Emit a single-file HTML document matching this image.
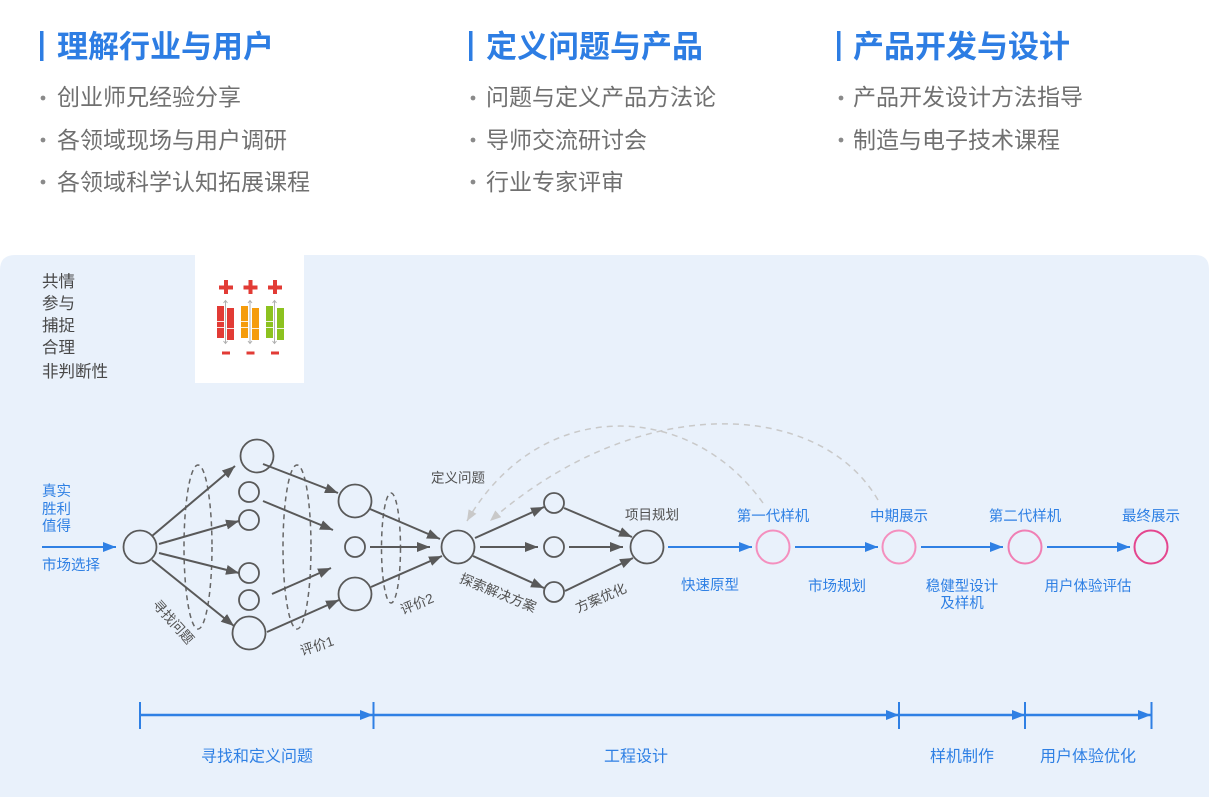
<!DOCTYPE html>
<html><head><meta charset="utf-8"><style>
html,body{margin:0;padding:0;background:#fff;}
svg{display:block;}
text{font-family:"Liberation Sans","Noto Sans CJK SC",sans-serif;}
</style></head><body>
<svg width="1209" height="797" viewBox="0 0 1209 797" xmlns="http://www.w3.org/2000/svg">
<defs>
<marker id="ga" markerUnits="userSpaceOnUse" markerWidth="14" markerHeight="11" refX="13" refY="5" orient="auto"><path d="M0,0 L13,5 L0,10 z" fill="#595959"/></marker>
<marker id="ba" markerUnits="userSpaceOnUse" markerWidth="14" markerHeight="11" refX="13" refY="5" orient="auto"><path d="M0,0 L13,5 L0,10 z" fill="#2f80e4"/></marker>
<marker id="la" markerUnits="userSpaceOnUse" markerWidth="12" markerHeight="10" refX="11" refY="4.5" orient="auto"><path d="M0,0 L11,4.5 L0,9 z" fill="#c9c9c9"/></marker>
</defs>
<rect width="1209" height="797" fill="#fff"/>

<!-- header -->
<g>
<rect x="40" y="31" width="3.5" height="30" fill="#2d7de3"/>
<text x="57" y="47" font-size="31" font-weight="bold" fill="#2d7de3" dominant-baseline="central">理解行业与用户</text>
<rect x="469" y="31" width="3.5" height="30" fill="#2d7de3"/>
<text x="486" y="47" font-size="31" font-weight="bold" fill="#2d7de3" dominant-baseline="central">定义问题与产品</text>
<rect x="837" y="31" width="3.5" height="30" fill="#2d7de3"/>
<text x="853" y="47" font-size="31" font-weight="bold" fill="#2d7de3" dominant-baseline="central">产品开发与设计</text>

<g fill="#8a8a8a">
<circle cx="43" cy="98" r="2.4"/><circle cx="43" cy="140" r="2.4"/><circle cx="43" cy="182" r="2.4"/>
<circle cx="473" cy="98" r="2.4"/><circle cx="473" cy="140" r="2.4"/><circle cx="473" cy="182" r="2.4"/>
<circle cx="841" cy="98" r="2.4"/><circle cx="841" cy="140" r="2.4"/>
</g>
<g font-size="23" fill="#707070" dominant-baseline="central">
<text x="57" y="97">创业师兄经验分享</text>
<text x="57" y="140">各领域现场与用户调研</text>
<text x="57" y="182">各领域科学认知拓展课程</text>
<text x="486" y="97">问题与定义产品方法论</text>
<text x="486" y="140">导师交流研讨会</text>
<text x="486" y="182">行业专家评审</text>
<text x="853" y="97">产品开发设计方法指导</text>
<text x="853" y="140">制造与电子技术课程</text>
</g>
</g>

<!-- panel -->
<path d="M0,270 Q0,255 15,255 H1195 Q1209,255 1209,269 V797 H0 Z" fill="#e9f1fb"/>
<rect x="195" y="255" width="109" height="128" fill="#fff"/>

<g font-size="16.5" fill="#484848" dominant-baseline="central">
<text x="42" y="282">共情</text>
<text x="42" y="304">参与</text>
<text x="42" y="326">捕捉</text>
<text x="42" y="348">合理</text>
<text x="42" y="372">非判断性</text>
</g>

<!-- icon -->
<g>
<g id="grp">
<rect x="219" y="285.5" width="14" height="4" fill="#e23b35"/>
<rect x="224" y="280" width="4" height="14" fill="#e23b35"/>
<rect x="222" y="351.5" width="8" height="3" fill="#e23b35"/>
</g>
<use href="#grp" x="24.5"/>
<use href="#grp" x="49"/>
<rect x="217" y="306" width="7" height="32" fill="#e23b35"/>
<rect x="227" y="308" width="7" height="32" fill="#e23b35"/>
<rect x="241" y="306" width="7" height="32" fill="#f59c0c"/>
<rect x="252" y="308" width="7" height="32" fill="#f59c0c"/>
<rect x="266" y="306" width="7" height="32" fill="#8cc21f"/>
<rect x="277" y="308" width="7" height="32" fill="#8cc21f"/>
<g fill="#fff" opacity="0.85">
<rect x="217" y="321" width="7" height="1"/><rect x="217" y="327" width="7" height="1"/><rect x="227" y="328" width="7" height="1"/>
<rect x="241" y="321" width="7" height="1"/><rect x="241" y="327" width="7" height="1"/><rect x="252" y="328" width="7" height="1"/>
<rect x="266" y="321" width="7" height="1"/><rect x="266" y="327" width="7" height="1"/><rect x="277" y="328" width="7" height="1"/>
</g>
<g stroke="#b0b0b0" stroke-width="1" fill="none">
<line x1="225.5" y1="301" x2="225.5" y2="343"/><line x1="250" y1="301" x2="250" y2="343"/><line x1="274.5" y1="301" x2="274.5" y2="343"/>
<path d="M223.5,303 L225.5,300.5 L227.5,303 M223.5,341 L225.5,343.5 L227.5,341"/>
<path d="M248,303 L250,300.5 L252,303 M248,341 L250,343.5 L252,341"/>
<path d="M272.5,303 L274.5,300.5 L276.5,303 M272.5,341 L274.5,343.5 L276.5,341"/>
</g>
</g>

<!-- dashed ellipses -->
<g fill="none" stroke="#666" stroke-width="1.5" stroke-dasharray="5,4">
<ellipse cx="198" cy="547" rx="14" ry="82"/>
<ellipse cx="297" cy="547" rx="14" ry="82"/>
<ellipse cx="391" cy="548" rx="9.5" ry="55"/>
</g>

<!-- gray arrows -->
<g stroke="#595959" stroke-width="2" fill="none" marker-end="url(#ga)">
<line x1="152" y1="536" x2="235" y2="466"/>
<line x1="159" y1="544" x2="239" y2="521"/>
<line x1="159" y1="553" x2="239" y2="573"/>
<line x1="152" y1="560" x2="234" y2="626"/>
<line x1="263" y1="464" x2="338" y2="493"/>
<line x1="263" y1="501" x2="333" y2="530"/>
<line x1="272" y1="594" x2="331" y2="568"/>
<line x1="267" y1="632" x2="339" y2="600"/>
<line x1="370" y1="509" x2="440" y2="539"/>
<line x1="370" y1="547" x2="430" y2="547"/>
<line x1="371" y1="587" x2="442" y2="556"/>
<line x1="475" y1="538" x2="544" y2="507"/>
<line x1="480" y1="547" x2="538" y2="547"/>
<line x1="473" y1="556" x2="544" y2="588"/>
<line x1="564" y1="508" x2="632" y2="537"/>
<line x1="569" y1="547" x2="623" y2="547"/>
<line x1="565" y1="591" x2="633" y2="558"/>
</g>

<!-- gray circles -->
<g fill="none" stroke="#595959" stroke-width="1.8">
<circle cx="140" cy="547" r="16.5"/>
<circle cx="257" cy="456" r="16.5"/>
<circle cx="249" cy="492" r="10"/>
<circle cx="249" cy="520" r="10"/>
<circle cx="249" cy="573" r="10"/>
<circle cx="249" cy="600" r="10"/>
<circle cx="249" cy="633" r="16.5"/>
<circle cx="355" cy="501" r="16.5"/>
<circle cx="355" cy="547" r="10"/>
<circle cx="355" cy="594" r="16.5"/>
<circle cx="458" cy="547" r="16.5"/>
<circle cx="554" cy="503" r="10"/>
<circle cx="554" cy="547" r="10"/>
<circle cx="554" cy="592" r="10"/>
<circle cx="647" cy="547" r="16.5"/>
</g>

<!-- dashed feedback curves -->
<g fill="none" stroke="#c9c9c9" stroke-width="1.5" stroke-dasharray="6,5" marker-end="url(#la)">
<path d="M763,503 C690,400 540,395 467,521"/>
<path d="M878,500 C820,400 640,390 490,521"/>
</g>

<!-- blue arrows -->
<g stroke="#2f80e4" stroke-width="2" fill="none" marker-end="url(#ba)">
<line x1="42" y1="547" x2="116" y2="547"/>
<line x1="668" y1="547" x2="752" y2="547"/>
<line x1="795" y1="547" x2="878" y2="547"/>
<line x1="921" y1="547" x2="1003" y2="547"/>
<line x1="1047" y1="547" x2="1130" y2="547"/>
</g>

<!-- pink circles -->
<g fill="none" stroke-width="2">
<circle cx="773" cy="547" r="16.5" stroke="#f48fbe"/>
<circle cx="899" cy="547" r="16.5" stroke="#f48fbe"/>
<circle cx="1025" cy="547" r="16.5" stroke="#f07fb4"/>
<circle cx="1151" cy="547" r="16.5" stroke="#e4468e"/>
</g>

<!-- labels -->
<g font-size="14.5" fill="#2f80e4" dominant-baseline="central">
<text x="42" y="492">真实</text>
<text x="42" y="510">胜利</text>
<text x="42" y="527">值得</text>
<text x="42" y="566">市场选择</text>
</g>
<g font-size="14.5" fill="#2f80e4" dominant-baseline="central" text-anchor="middle">
<text x="773" y="517">第一代样机</text>
<text x="899" y="517">中期展示</text>
<text x="1025" y="517">第二代样机</text>
<text x="1151" y="517">最终展示</text>
<text x="710" y="586">快速原型</text>
<text x="837" y="587">市场规划</text>
<text x="962" y="587">稳健型设计</text>
<text x="962" y="604">及样机</text>
<text x="1088" y="587">用户体验评估</text>
</g>
<g font-size="13.5" fill="#505050" dominant-baseline="central" text-anchor="middle">
<text x="458" y="478">定义问题</text>
<text x="652" y="515">项目规划</text>
<text transform="translate(173,622) rotate(48)">寻找问题</text>
<text transform="translate(317,646) rotate(-18)">评价1</text>
<text transform="translate(417,604) rotate(-22)">评价2</text>
<text transform="translate(498,593) rotate(22)">探索解决方案</text>
<text transform="translate(601,598) rotate(-23)">方案优化</text>
</g>

<!-- timeline -->
<g stroke="#2f80e4" stroke-width="2">
<line x1="140" y1="702" x2="140" y2="729"/>
<line x1="373.5" y1="702" x2="373.5" y2="729"/>
<line x1="899" y1="702" x2="899" y2="729"/>
<line x1="1025" y1="702" x2="1025" y2="729"/>
<line x1="1151.5" y1="702" x2="1151.5" y2="729"/>
</g>
<g stroke="#2f80e4" stroke-width="2.5" fill="none" marker-end="url(#ba)">
<line x1="140" y1="715" x2="373" y2="715"/>
<line x1="374" y1="715" x2="899" y2="715"/>
<line x1="900" y1="715" x2="1025" y2="715"/>
<line x1="1026" y1="715" x2="1151" y2="715"/>
</g>
<g font-size="16" fill="#2f80e4" dominant-baseline="central" text-anchor="middle">
<text x="257" y="757">寻找和定义问题</text>
<text x="636" y="757">工程设计</text>
<text x="962" y="757">样机制作</text>
<text x="1088" y="757">用户体验优化</text>
</g>
</svg>
</body></html>
